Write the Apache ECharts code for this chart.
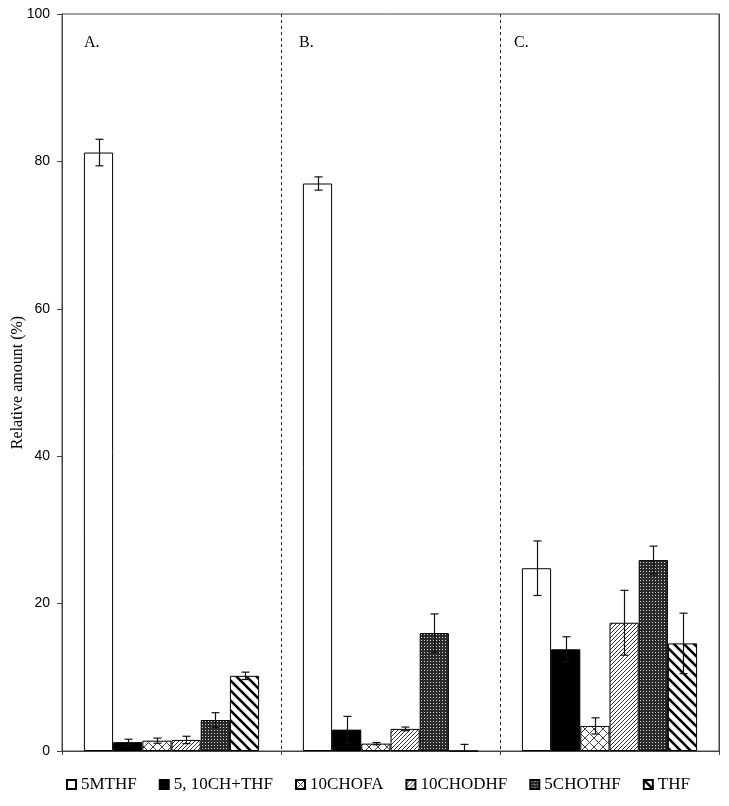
<!DOCTYPE html>
<html>
<head>
<meta charset="utf-8">
<script src="https://cdn.jsdelivr.net/npm/echarts@6/dist/echarts.min.js"></script>
<style>
  html, body { margin: 0; padding: 0; background: #fff; }
  #chart { width: 729px; height: 806px; }
</style>
</head>
<body>
<div id="chart"></div>
<script>
// panels and folate forms
const panels = ['A.', 'B.', 'C.']
const seriesNames = ['5MTHF', '5, 10CH+THF', '10CHOFA', '10CHODHF', '5CHOTHF', 'THF']

// relative amount (%) per panel, one array per form
const mthf = [81.2, 77.0, 24.8]
const chThf = [1.2, 2.9, 13.8]
const chofa = [1.4, 1.0, 3.4]
const chodhf = [1.5, 3.0, 17.4]
const chothf = [4.2, 16.0, 25.9]
const thf = [10.2, 0, 14.6]

// error (+/-)
const mthfErr = [1.8, 0.9, 3.7]
const chThfErr = [0.4, 1.8, 1.7]
const chofaErr = [0.35, 0.15, 1.1]
const chodhfErr = [0.5, 0.25, 4.4]
const chothfErr = [1.0, 2.6, 1.9]
const thfErr = [0.5, 0.9, 4.1]

const yTicks = [0, 20, 40, 60, 80, 100]

const values = [mthf, chThf, chofa, chodhf, chothf, thf]
const errors = [mthfErr, chThfErr, chofaErr, chodhfErr, chothfErr, thfErr]

// 填充图案
function makePattern (size, draw) {
  const c = document.createElement('canvas')
  c.width = size
  c.height = size
  const ctx = c.getContext('2d')
  draw(ctx, size)
  return { image: c, repeat: 'repeat' }
}

const crossHatch = makePattern(9, (ctx, s) => {
  ctx.fillStyle = '#fff'
  ctx.fillRect(0, 0, s, s)
  ctx.strokeStyle = '#444'
  ctx.lineWidth = 1
  ctx.beginPath()
  ctx.moveTo(0, 0); ctx.lineTo(s, s)
  ctx.moveTo(s, 0); ctx.lineTo(0, s)
  ctx.stroke()
})

const fineDiag = makePattern(4, (ctx, s) => {
  ctx.fillStyle = '#fff'
  ctx.fillRect(0, 0, s, s)
  ctx.strokeStyle = '#333'
  ctx.lineWidth = 1
  ctx.beginPath()
  ctx.moveTo(-1, s + 1); ctx.lineTo(s + 1, -1)
  ctx.moveTo(-1, 1); ctx.lineTo(1, -1)
  ctx.moveTo(s - 1, s + 1); ctx.lineTo(s + 1, s - 1)
  ctx.stroke()
})

const darkDots = makePattern(3, (ctx, s) => {
  ctx.fillStyle = '#2a2a2a'
  ctx.fillRect(0, 0, s, s)
  ctx.fillStyle = '#d8d8d8'
  ctx.fillRect(1, 1, 1, 1)
})

const thickDiag = makePattern(10, (ctx, s) => {
  ctx.fillStyle = '#fff'
  ctx.fillRect(0, 0, s, s)
  ctx.strokeStyle = '#000'
  ctx.lineWidth = 2.6
  ctx.beginPath()
  ctx.moveTo(-2, -2); ctx.lineTo(s + 2, s + 2)
  ctx.moveTo(-2, s - 2); ctx.lineTo(2, s + 2)
  ctx.moveTo(s - 2, -2); ctx.lineTo(s + 2, 2)
  ctx.stroke()
})

const fills = ['#fff', '#000', crossHatch, fineDiag, darkDots, thickDiag]

const serif = 'Liberation Serif'
const sans = 'Liberation Sans'

function errorRenderer (idx) {
  return function (params, api) {
    const c = api.value(0)
    const v = api.value(1)
    const e = api.value(2)
    const band = api.size([1, 0])[0]
    const bw = band * 0.8 / 6
    const p = api.coord([c, v])
    const x = Math.round(p[0] + (idx - 2.5) * bw) + 0.5
    const top = api.coord([c, v + e])[1]
    const low = v - e
    const bot = api.coord([c, Math.max(low, 0)])[1]
    const style = { stroke: '#111', lineWidth: 1.2 }
    const children = [
      { type: 'line', shape: { x1: x, y1: top, x2: x, y2: bot }, style },
      { type: 'line', shape: { x1: x - 4, y1: top, x2: x + 4, y2: top }, style }
    ]
    if (low > 0) {
      children.push({ type: 'line', shape: { x1: x - 4, y1: bot, x2: x + 4, y2: bot }, style })
    }
    return { type: 'group', children }
  }
}

const series = []
seriesNames.forEach((name, i) => {
  series.push({
    type: 'bar',
    name,
    data: values[i],
    barGap: '0%',
    barCategoryGap: '20%',
    itemStyle: { color: fills[i], borderColor: '#000', borderWidth: 1 }
  })
})
seriesNames.forEach((name, i) => {
  series.push({
    type: 'custom',
    name: name + ' err',
    renderItem: errorRenderer(i),
    data: values[i].map((v, k) => [k, v, errors[i][k]]),
    z: 5,
    silent: true
  })
})

const chart = echarts.init(document.getElementById('chart'))
chart.setOption({
  animation: false,
  backgroundColor: '#fff',
  grid: {
    left: 62,
    right: 10,
    top: 14,
    bottom: 55,
    outerBoundsMode: 'none',
    containLabel: false,
    show: true,
    borderColor: '#444',
    borderWidth: 1
  },
  legend: {
    data: seriesNames,
    bottom: 8,
    left: 61,
    itemWidth: 9,
    itemHeight: 9,
    itemGap: 22,
    icon: 'rect',
    textStyle: { fontFamily: serif, fontSize: 17, color: '#000' }
  },
  xAxis: {
    type: 'category',
    data: panels,
    axisLabel: { show: false },
    axisLine: { lineStyle: { color: '#444' } },
    axisTick: { show: true, length: 4, interval: 0, lineStyle: { color: '#444' } },
    splitLine: { show: true, interval: 0, lineStyle: { color: '#222', type: [3, 3] } }
  },
  yAxis: [
    {
      type: 'value',
      min: yTicks[0],
      max: yTicks[yTicks.length - 1],
      interval: 20,
      name: 'Relative amount (%)',
      nameLocation: 'middle',
      nameGap: 36,
      nameMoveOverlap: false,
      nameTextStyle: { fontFamily: serif, fontSize: 16, color: '#000' },
      axisLine: { show: true, lineStyle: { color: '#444' } },
      axisTick: { show: true, length: 5, lineStyle: { color: '#444' } },
      axisLabel: { fontFamily: sans, fontSize: 14, color: '#000', margin: 12 },
      splitLine: { show: false }
    },
    {
      // solid right frame over the last dashed divider
      type: 'value',
      position: 'right',
      min: 0,
      max: 100,
      interval: 20,
      z: 3,
      axisLine: { show: true, lineStyle: { color: '#444' } },
      axisTick: { show: false },
      axisLabel: { show: false },
      splitLine: { show: false }
    }
  ],
  graphic: panels.map((t, k) => ({
    type: 'text',
    left: [84, 299, 514][k],
    top: 35,
    style: { text: t, fontFamily: serif, fontSize: 16, fill: '#000' }
  })),
  series
})
</script>
</body>
</html>
